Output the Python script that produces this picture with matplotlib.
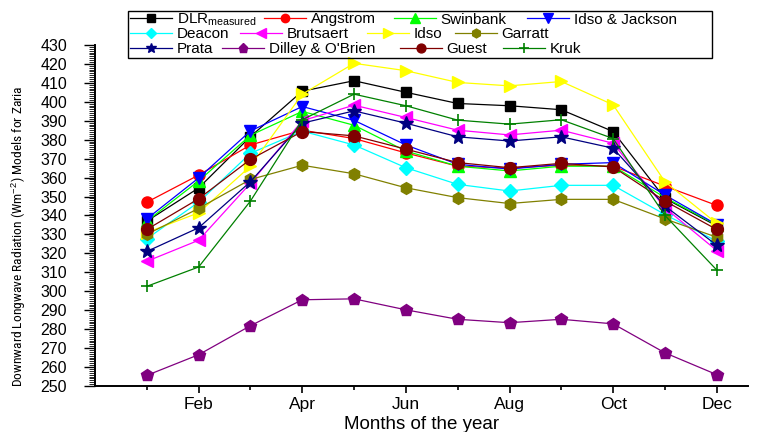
import matplotlib
matplotlib.use("Agg")
import matplotlib.pyplot as plt
from matplotlib.ticker import MultipleLocator, FixedLocator
from matplotlib.patches import Rectangle

months = ["Jan", "Feb", "Mar", "Apr", "May", "Jun", "Jul", "Aug", "Sep", "Oct", "Nov", "Dec"]
month_idx = list(range(1, 13))
tick_months = [2, 4, 6, 8, 10, 12]
tick_labels = ["Feb", "Apr", "Jun", "Aug", "Oct", "Dec"]

dlr_measured = [337, 354.5, 381.6, 405.6, 411.1, 405.0, 399.1, 397.9, 395.8, 384.3, 349, 334.5]
angstrom = [347, 361.3, 377.2, 385, 380.6, 373, 366, 365, 366.5, 366, 355.5, 345.3]
swinbank = [337, 358.2, 382.3, 394.9, 387.6, 374, 366, 363.5, 366, 366, 349.5, 335]
idso_jackson = [338.2, 359.8, 384.6, 397.5, 390.2, 377.2, 367, 364.5, 367, 367.9, 350.8, 335.2]
deacon = [327.7, 347, 372.8, 384.5, 377.2, 365.2, 356.4, 352.9, 355.9, 355.9, 340.5, 326.4]
brutsaert = [315.8, 326.9, 357, 390, 398.2, 391.7, 385, 382.5, 385, 378.1, 344, 321.5]
idso = [331, 341.4, 366, 404, 420.3, 416.4, 410.2, 408.4, 410.7, 398.4, 357.8, 335.8]
garratt = [330, 343.7, 359, 366.5, 362, 354.6, 349.4, 346.3, 348.5, 348.5, 338.2, 328.5]
prata = [321, 333.5, 357.8, 388.7, 395.2, 388.7, 381.5, 379.3, 381.5, 375.5, 345, 324.3]
dilley_obrien = [255.6, 266.5, 281.8, 295.5, 296, 290.2, 285.2, 283.4, 285.2, 282.8, 267.5, 256]
guest = [332.6, 348.8, 369.6, 384.3, 382, 375, 367.9, 365.2, 367.5, 365.6, 347.6, 332.6]
kruk = [302.6, 312.8, 347.6, 390.5, 404, 397.9, 390.3, 388.2, 390.5, 380.6, 340, 311.2]

series = [
    ("DLR$_{\\mathrm{measured}}$", dlr_measured, "#000000", "s", 7),
    ("Angstrom", angstrom, "#ff0000", "o", 8),
    ("Swinbank", swinbank, "#00ff00", "^", 9),
    ("Idso & Jackson", idso_jackson, "#0000ff", "v", 9),
    ("Deacon", deacon, "#00ffff", "D", 7),
    ("Brutsaert", brutsaert, "#ff00ff", "<", 9),
    ("Idso", idso, "#ffff00", ">", 9),
    ("Garratt", garratt, "#808000", "h", 8.5),
    ("Prata", prata, "#000080", "*", 10),
    ("Dilley & O'Brien", dilley_obrien, "#800080", "p", 9),
    ("Guest", guest, "#800000", "o", 8.5),
    ("Kruk", kruk, "#008000", "+", 9),
]

plt.rcParams['font.family'] = ['Liberation Sans', 'DejaVu Sans']
plt.rcParams['mathtext.fontset'] = 'custom'
plt.rcParams['mathtext.rm'] = 'Liberation Sans'
plt.rcParams['mathtext.it'] = 'Liberation Sans:italic'

fig = plt.figure(figsize=(7.6, 4.32), dpi=100)
ax = fig.add_axes([0.125, 0.1065, 0.859, 0.7895])

handles = []
for name, vals, col, mk, ms in series:
    if mk == "+":
        h, = ax.plot(month_idx, vals, color=col, marker=mk, ms=ms, lw=0.9,
                     mew=1.2, label=name)
    else:
        h, = ax.plot(month_idx, vals, color=col, marker=mk, ms=ms, lw=0.9,
                     mec=col, mfc=col, label=name)
    handles.append(h)

ax.set_xlim(0, 12.6)
ax.set_ylim(250, 430)
ax.xaxis.set_major_locator(FixedLocator(tick_months))
ax.set_xticklabels(tick_labels)
ax.xaxis.set_minor_locator(FixedLocator([1, 3, 5, 7, 9, 11]))
ax.yaxis.set_major_locator(MultipleLocator(10))
ax.yaxis.set_minor_locator(MultipleLocator(1))
ax.tick_params(axis='x', which='major', direction='out', length=5, width=1.2,
               labelsize=12.5, pad=3)
ax.tick_params(axis='x', which='minor', direction='out', length=3, width=1.2)
ax.tick_params(axis='y', which='major', direction='out', length=8, width=1.0,
               labelsize=11.5, pad=12)
ax.tick_params(axis='y', which='minor', direction='out', length=4, width=0.6)
for s in ['top', 'right']:
    ax.spines[s].set_visible(False)
for s in ['left', 'bottom']:
    ax.spines[s].set_linewidth(1.4)

ax.set_xlabel("Months of the year", fontsize=13.5, labelpad=3)
ax.set_ylabel("Downward Longwave Radiation (Wm$^{-2}$) Models for Zaria",
              fontsize=9.7,
              family=['Liberation Sans Narrow', 'Roboto Condensed', 'Open Sans Condensed',
                      'Liberation Sans'])
ax.yaxis.set_label_coords(-0.102, 0.44)

# legend box
fig.patches.append(Rectangle((128 / 760, 1 - 58 / 432), (712 - 128) / 760, 47 / 432,
                             transform=fig.transFigure, fill=False, edgecolor='black',
                             lw=1.0, zorder=5))
leg_x = [130, 264, 394, 527, 130, 240, 367, 455, 130, 222, 400, 503]
leg_y = [19.5, 19.5, 19.5, 19.5, 34.5, 34.5, 34.5, 34.5, 49, 49, 49, 49]
for h, lx, ly in zip(handles, leg_x, leg_y):
    fig.legend(handles=[h], loc='center left',
               bbox_to_anchor=(lx / 760, 1 - ly / 432),
               frameon=False, fontsize=11, handlelength=2.75,
               handletextpad=0.3, borderaxespad=0, borderpad=0,
               markerscale=0.75)

fig.savefig("out.png", dpi=100)
